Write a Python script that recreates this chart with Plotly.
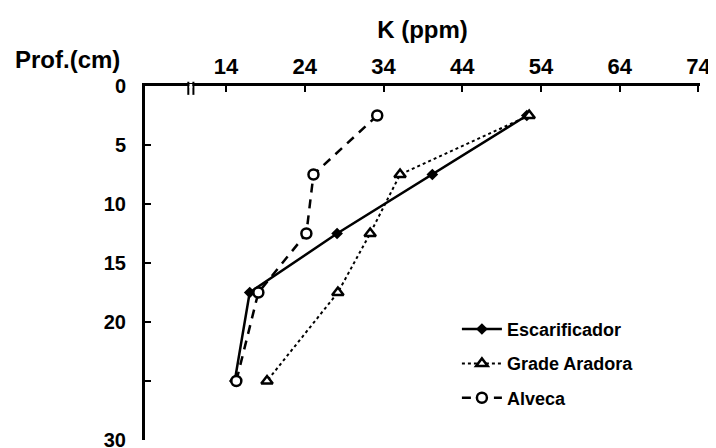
import plotly.graph_objects as go

depth = [2.5, 7.5, 12.5, 17.5, 25]
esc = [52.2, 40.2, 28.1, 17.0, 15.1]
grade = [52.5, 36.1, 32.3, 28.2, 19.2]
alveca = [33.2, 25.1, 24.2, 18.1, 15.3]
x_ticks = [14, 24, 34, 44, 54, 64, 74]
y_ticks = [0, 5, 10, 15, 20, 25, 30]
y_labels = ["0", "5", "10", "15", "20", "", "30"]
break_at = [9.2, 9.85]

FONT = "Liberation Sans"
fig = go.Figure()
fig.add_trace(go.Scatter(x=esc, y=depth, name="Escarificador", mode="lines+markers",
                         legendgroup="a",
                         line=dict(color="black", width=2.5),
                         marker=dict(symbol="diamond", size=9, color="black")))
fig.add_trace(go.Scatter(x=grade, y=depth, name="Grade Aradora", mode="lines+markers",
                         legendgroup="b",
                         line=dict(color="black", width=2, dash="dot"),
                         marker=dict(symbol="triangle-up", size=10, color="white",
                                     line=dict(width=2.5, color="black"))))
fig.add_trace(go.Scatter(x=alveca, y=depth, name="Alveca", mode="lines+markers",
                         legendgroup="c",
                         line=dict(color="black", width=2.5, dash="9px,7px"),
                         marker=dict(symbol="circle", size=10, color="white",
                                     line=dict(width=2.5, color="black"))))

# axis break marks
for bx in break_at:
    fig.add_shape(type="line", xref="x", yref="paper", x0=bx, x1=bx, y0=0.975, y1=1.012,
                  line=dict(color="black", width=2))
fig.add_shape(type="line", xref="x", yref="paper", x0=break_at[0] + 0.15, x1=break_at[1] - 0.15,
              y0=1, y1=1, line=dict(color="white", width=4))

fig.update_layout(
    width=708, height=440,
    margin=dict(l=137, r=16, t=78, b=8),
    plot_bgcolor="white", paper_bgcolor="white",
    font=dict(family=FONT, color="black"),
    xaxis=dict(side="top", range=[3.7, 74.2], tickvals=x_ticks, automargin=False,
               ticklabeloverflow="allow",
               ticks="inside", ticklen=6, tickwidth=2, tickcolor="black",
               showline=True, linewidth=2.5, linecolor="black", showgrid=False, zeroline=False,
               tickfont=dict(size=22, family=FONT, weight="bold"),
               title=dict(text="K (ppm)", font=dict(size=24, family=FONT, weight="bold"), standoff=10)),
    yaxis=dict(range=[30, 0], tickvals=y_ticks, ticktext=y_labels, automargin=False,
               ticklabeloverflow="allow",
               ticks="inside", ticklen=6, tickwidth=2, tickcolor="black",
               showline=True, linewidth=3, linecolor="black", showgrid=False, zeroline=False,
               tickfont=dict(size=20, family=FONT, weight="bold"), ticklabelstandoff=12),
    legend=dict(x=0.562, y=0.365, xanchor="left", yanchor="top",
                font=dict(size=18, family=FONT, weight="bold"), bgcolor="rgba(0,0,0,0)",
                itemwidth=40, tracegroupgap=8),
    showlegend=True,
)
fig.add_annotation(text="Prof.(cm)", xref="paper", yref="paper", x=-0.238, y=1.075,
                   xanchor="left", yanchor="middle", showarrow=False,
                   font=dict(size=24, family=FONT, weight="bold"))
fig.write_html("out.html")
